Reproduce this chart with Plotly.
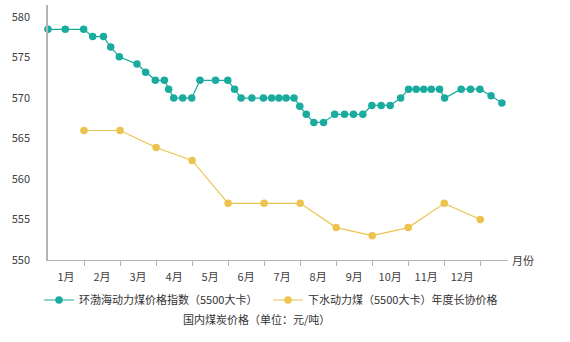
import plotly.graph_objects as go

# Month positions (0 = start of January, 12 = end of December)
month_labels = ["1月", "2月", "3月", "4月", "5月", "6月", "7月", "8月", "9月", "10月", "11月", "12月"]
month_label_pos = [i + 0.5 for i in range(12)]
month_bounds = list(range(1, 13))

# 环渤海动力煤价格指数 (weekly releases, month units)
bspi_x = [0, 0.48, 0.99, 1.24, 1.54, 1.74, 1.98, 2.47, 2.71, 2.98, 3.23, 3.35, 3.49,
          3.74, 3.99, 4.22, 4.65, 4.99, 5.18, 5.36, 5.66, 5.98, 6.21, 6.41, 6.61,
          6.83, 6.99, 7.17, 7.38, 7.65, 7.96, 8.23, 8.48, 8.74, 8.99, 9.25, 9.50,
          9.79, 10.01, 10.22, 10.43, 10.64, 10.87, 11.01, 11.47, 11.73, 11.99,
          12.30, 12.60]
bspi = [578.5, 578.5, 578.5, 577.6, 577.6, 576.3, 575.1, 574.2, 573.2, 572.2, 572.2,
        571.1, 570.0, 570.0, 570.0, 572.2, 572.2, 572.2, 571.1, 570.0, 570.0, 570.0,
        570.0, 570.0, 570.0, 570.0, 569.0, 568.0, 567.0, 567.0, 568.0, 568.0, 568.0,
        568.0, 569.1, 569.1, 569.1, 570.0, 571.1, 571.1, 571.1, 571.1, 571.1, 570.0,
        571.1, 571.1, 571.1, 570.3, 569.4]

# 下水动力煤年度长协价格 (monthly, at month end)
contract_x = [1, 2, 3, 4, 5, 6, 7, 8, 9, 10, 11, 12]
contract = [566, 566, 563.9, 562.3, 557, 557, 557, 554, 553, 554, 557, 555]

y_ticks = [550, 555, 560, 565, 570, 575, 580]

TEAL = "#1aab9f"
YELLOW = "#ebc44f"
AXIS = "#b3b3b3"
FONT = "Microsoft YaHei, Noto Sans CJK SC, sans-serif"

legend_common = dict(orientation="h", xref="container", yref="container",
                     xanchor="left", yanchor="middle", visible=True,
                     font=dict(size=11, color="#333333"), bgcolor="rgba(0,0,0,0)")

fig = go.Figure()
fig.add_trace(go.Scatter(
    x=bspi_x, y=bspi, mode="lines+markers",
    name="环渤海动力煤价格指数（5500大卡）",
    line=dict(color=TEAL, width=1.2),
    marker=dict(color=TEAL, size=7.5),
    cliponaxis=False, legend="legend", showlegend=True,
))
fig.add_trace(go.Scatter(
    x=contract_x, y=contract, mode="lines+markers",
    name="下水动力煤（5500大卡）年度长协价格",
    line=dict(color=YELLOW, width=1.2),
    marker=dict(color=YELLOW, size=7.5),
    cliponaxis=False, legend="legend2", showlegend=True,
))

fig.update_layout(
    width=570, height=342,
    showlegend=True,
    margin=dict(l=48, r=62, t=5, b=82, autoexpand=False),
    paper_bgcolor="white", plot_bgcolor="white",
    font=dict(family=FONT, size=11, color="#404040"),
    legend=dict(x=39 / 570, y=1 - 300 / 342, **legend_common),
    legend2=dict(x=268 / 570, y=1 - 300 / 342, **legend_common),
    xaxis=dict(
        range=[0, 12.77], showgrid=False, zeroline=False,
        showline=True, linecolor=AXIS, linewidth=1,
        tickvals=month_label_pos, ticktext=month_labels, ticks="",
        ticklabelstandoff=7,
        minor=dict(tickvals=month_bounds, ticks="outside", ticklen=5,
                   tickcolor=AXIS, tickwidth=1, showgrid=False),
    ),
    yaxis=dict(
        range=[550, 581.5], showgrid=False, zeroline=False,
        showline=True, linecolor=AXIS, linewidth=1.5,
        tickvals=y_ticks, ticks="", ticklabelstandoff=14,
    ),
    annotations=[
        dict(x=12.77, y=550, xref="x", yref="y", text="月份", showarrow=False,
             xanchor="left", yanchor="middle", xshift=2,
             font=dict(size=11, color="#404040")),
        dict(x=(256 - 48) / 460, y=(260 - 319) / 255, xref="paper", yref="paper",
             text="国内煤炭价格（单位：元/吨）", showarrow=False,
             xanchor="center", yanchor="middle",
             font=dict(size=11, color="#333333")),
    ],
)

fig.write_html("out.html")
